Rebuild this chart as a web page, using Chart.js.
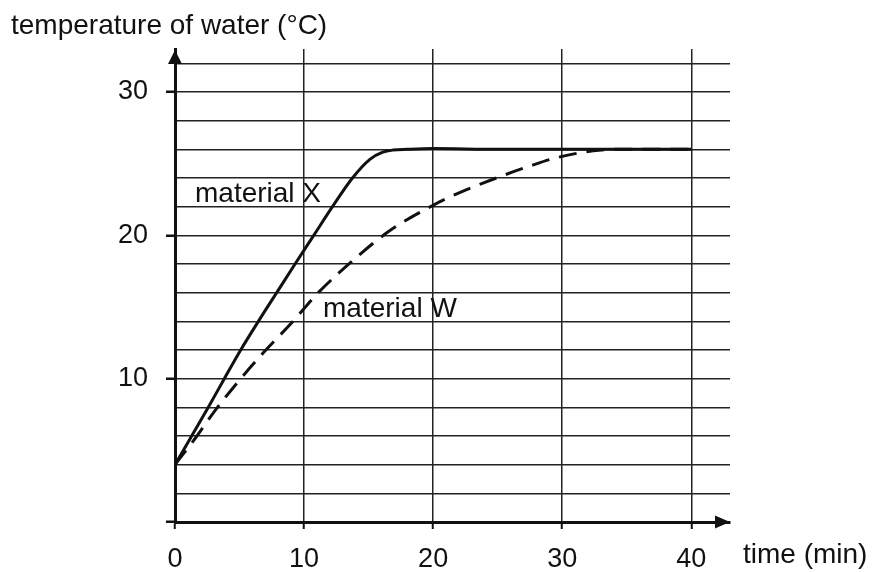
<!DOCTYPE html>
<html>
<head>
<meta charset="utf-8">
<script src="https://cdn.jsdelivr.net/npm/chart.js@4/dist/chart.umd.min.js"></script>
<style>
  html, body { margin: 0; padding: 0; background: #fff; }
  #wrap { width: 872px; height: 572px; position: relative; }
</style>
</head>
<body>
<div id="wrap"><canvas id="c" width="872" height="572"></canvas></div>
<script>
// ---- data ----
const timeX = [0, 1.29, 2.58, 3.82, 5.09, 6.46, 7.88, 9.3, 10.75, 12.2, 13.75, 15.1, 16.1, 16.9, 18, 20, 25, 30, 35, 40];
const tempX = [4, 6, 8, 10, 12, 14, 16, 18, 20, 22, 24, 25.3, 25.8, 25.95, 26, 26.05, 26, 26, 26, 26];
const timeW = [0, 1.7, 3, 4.9, 6.84, 9.04, 11.1, 14.1, 16.6, 20, 22.1, 24.9, 27.7, 29.5, 32.4, 34, 40];
const tempW = [4, 6, 7.65, 9.8, 11.8, 13.9, 16, 18.5, 20.3, 22.1, 23, 24, 24.9, 25.4, 25.9, 26, 26];
const xTickLabels = [0, 10, 20, 30, 40];
const yTickLabels = [10, 20, 30];
const seriesNames = ["material X", "material W"];
const yTitle = "temperature of water (°C)";
const xTitle = "time (min)";

const INK = '#111';
const FONT = '"Liberation Sans", Arial, sans-serif';

const toPts = (xs, ys) => xs.map((x, i) => ({ x, y: ys[i] }));

const decor = {
  id: 'decor',
  afterDraw(chart) {
    const { ctx, chartArea: a, scales: { x, y } } = chart;
    ctx.save();
    ctx.fillStyle = INK;
    // y-axis arrow
    ctx.beginPath();
    ctx.moveTo(a.left, a.top + 1);
    ctx.lineTo(a.left - 7, a.top + 15);
    ctx.lineTo(a.left + 7, a.top + 15);
    ctx.closePath();
    ctx.fill();
    // x-axis arrow
    ctx.beginPath();
    ctx.moveTo(a.right, a.bottom);
    ctx.lineTo(a.right - 15, a.bottom - 6.5);
    ctx.lineTo(a.right - 15, a.bottom + 6.5);
    ctx.closePath();
    ctx.fill();
    // titles
    ctx.font = '28px ' + FONT;
    ctx.textBaseline = 'alphabetic';
    ctx.textAlign = 'left';
    ctx.fillText(yTitle, 11, 34);
    ctx.fillText(xTitle, 743, 563);
    // series labels
    ctx.fillText(seriesNames[0], x.getPixelForValue(1.55), y.getPixelForValue(22.35));
    ctx.fillText(seriesNames[1], x.getPixelForValue(11.47), y.getPixelForValue(14.33));
    ctx.restore();
  }
};

new Chart(document.getElementById('c'), {
  type: 'line',
  data: {
    datasets: [
      {
        label: seriesNames[0],
        data: toPts(timeX, tempX),
        borderColor: INK,
        borderWidth: 3,
        pointRadius: 0,
        fill: false,
        cubicInterpolationMode: 'monotone'
      },
      {
        label: seriesNames[1],
        data: toPts(timeW, tempW),
        borderColor: INK,
        borderWidth: 3,
        borderDash: [18, 10],
        pointRadius: 0,
        fill: false,
        cubicInterpolationMode: 'monotone'
      }
    ]
  },
  options: {
    responsive: false,
    animation: false,
    events: [],
    layout: { padding: { left: 0, right: 142, top: 49, bottom: 0 } },
    plugins: { legend: { display: false }, tooltip: { enabled: false }, title: { display: false } },
    scales: {
      x: {
        type: 'linear',
        min: 0,
        max: 43,
        afterBuildTicks: s => { s.ticks = xTickLabels.map(v => ({ value: v })); },
        afterFit: s => { s.height = 50; },
        border: { display: true, color: INK, width: 3 },
        grid: {
          color: c => (c.tick && c.tick.value > 0) ? '#222' : 'rgba(0,0,0,0)',
          lineWidth: 1.5,
          tickColor: INK,
          tickLength: 7,
          tickWidth: 2
        },
        ticks: {
          color: INK,
          padding: 14,
          maxRotation: 0,
          autoSkip: false,
          font: { family: FONT, size: 27 },
          callback: v => xTickLabels.includes(v) ? String(v) : ''
        }
      },
      y: {
        type: 'linear',
        min: 0,
        max: 33,
        afterBuildTicks: s => {
          const t = [];
          for (let v = 0; v <= 32; v += 2) t.push({ value: v });
          s.ticks = t;
        },
        afterFit: s => { s.width = 175; },
        border: { display: true, color: INK, width: 3 },
        grid: {
          color: c => (c.tick && c.tick.value > 0) ? '#222' : 'rgba(0,0,0,0)',
          lineWidth: 1.5,
          tickColor: c => (c.tick && c.tick.value % 10 === 0) ? INK : 'rgba(0,0,0,0)',
          tickLength: 9,
          tickWidth: 2.5
        },
        ticks: {
          color: INK,
          padding: 18,
          autoSkip: false,
          font: { family: FONT, size: 27 },
          callback: v => yTickLabels.includes(v) ? String(v) : ''
        }
      }
    }
  },
  plugins: [decor]
});
</script>
</body>
</html>
